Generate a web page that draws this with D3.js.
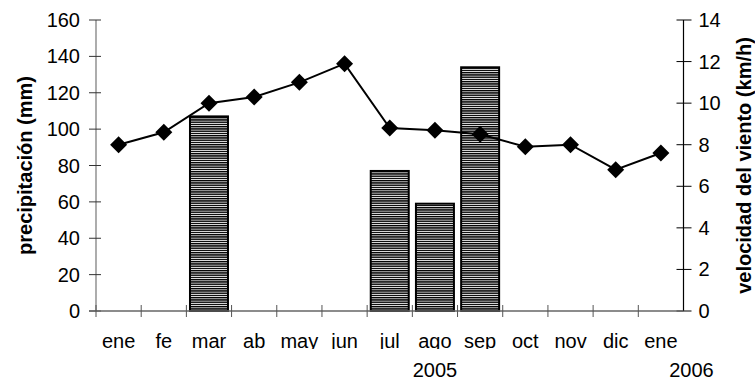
<!DOCTYPE html>
<html>
<head>
<meta charset="utf-8">
<script src="https://cdn.jsdelivr.net/npm/d3@7"></script>
<style>
  html, body { margin: 0; padding: 0; background: #fff; }
  svg { display: block; font-family: "Liberation Sans", Arial, sans-serif; }
</style>
</head>
<body>
<svg id="chart" width="755" height="380"></svg>
<script>
// Monthly precipitation (bars, left axis) and wind speed (line, right axis)
const months = ["ene", "fe", "mar", "ab", "may", "jun", "jul", "ago", "sep", "oct", "nov", "dic", "ene"];
const precipitation = [null, null, 107, null, null, null, 77, 59, 134, null, null, null, null];
const windSpeed = [8.0, 8.6, 10.0, 10.3, 11.0, 11.9, 8.8, 8.7, 8.5, 7.9, 8.0, 6.8, 7.6];
const precipTicks = [0, 20, 40, 60, 80, 100, 120, 140, 160];
const windTicks = [0, 2, 4, 6, 8, 10, 12, 14];
const years = ["2005", "2006"];
const leftTitle = "precipitación (mm)";
const rightTitle = "velocidad del viento (km/h)";

const svg = d3.select("#chart");
const plotLeft = 96, plotRight = 683.5, plotTop = 20, plotBottom = 311;
const fontSize = 20;

const x = d3.scaleBand().domain(d3.range(months.length)).range([plotLeft, plotRight]).padding(0);
const yP = d3.scaleLinear().domain([0, 160]).range([plotBottom, plotTop]);
const yW = d3.scaleLinear().domain([0, 14]).range([plotBottom, plotTop]);

// horizontal hatch fill for the bars
const defs = svg.append("defs");
const pat = defs.append("pattern")
  .attr("id", "hatch").attr("patternUnits", "userSpaceOnUse")
  .attr("width", 8).attr("height", 2.25);
pat.append("rect").attr("width", 8).attr("height", 2.25).attr("fill", "#fff");
pat.append("rect").attr("width", 8).attr("height", 1.4).attr("fill", "#000");

defs.append("clipPath").attr("id", "labelClip")
  .append("rect").attr("x", 0).attr("y", 0).attr("width", 755).attr("height", 349);

// bars
const barInset = 3.6;
svg.append("g").selectAll("rect")
  .data(precipitation.map((v, i) => ({ v, i })).filter(d => d.v != null))
  .join("rect")
  .attr("x", d => x(d.i) + barInset)
  .attr("width", x.bandwidth() - 2 * barInset)
  .attr("y", d => yP(d.v))
  .attr("height", d => yP(0) - yP(d.v))
  .attr("fill", "url(#hatch)")
  .attr("stroke", "#000")
  .attr("stroke-width", 2);

// left axis
const gL = svg.append("g");
gL.append("line").attr("x1", plotLeft).attr("x2", plotLeft).attr("y1", plotTop).attr("y2", plotBottom)
  .attr("stroke", "#808080").attr("stroke-width", 1.3);
gL.selectAll("line.t").data(precipTicks).join("line").attr("class", "t")
  .attr("x1", plotLeft - 7).attr("x2", plotLeft + 5)
  .attr("y1", d => yP(d)).attr("y2", d => yP(d))
  .attr("stroke", "#333").attr("stroke-width", 1);
gL.selectAll("text").data(precipTicks).join("text")
  .attr("x", plotLeft - 16).attr("y", d => yP(d)).attr("dy", "0.35em")
  .attr("text-anchor", "end").attr("font-size", fontSize).attr("fill", "#000")
  .text(d => d);

// right axis
const gR = svg.append("g");
gR.append("line").attr("x1", plotRight).attr("x2", plotRight).attr("y1", plotTop).attr("y2", plotBottom)
  .attr("stroke", "#000").attr("stroke-width", 1.2);
gR.selectAll("line.t").data(windTicks).join("line").attr("class", "t")
  .attr("x1", plotRight - 7).attr("x2", plotRight + 8)
  .attr("y1", d => yW(d)).attr("y2", d => yW(d))
  .attr("stroke", "#000").attr("stroke-width", 1);
gR.selectAll("text").data(windTicks).join("text")
  .attr("x", plotRight + 15).attr("y", d => yW(d)).attr("dy", "0.35em")
  .attr("text-anchor", "start").attr("font-size", fontSize).attr("fill", "#000")
  .text(d => d);

// category axis
const gB = svg.append("g");
gB.append("line").attr("x1", plotLeft - 7).attr("x2", plotRight).attr("y1", plotBottom).attr("y2", plotBottom)
  .attr("stroke", "#666").attr("stroke-width", 1.3);
gB.selectAll("line.t").data(d3.range(months.length)).join("line").attr("class", "t")
  .attr("x1", d => x(d)).attr("x2", d => x(d))
  .attr("y1", plotBottom - 6).attr("y2", plotBottom + 6)
  .attr("stroke", "#555").attr("stroke-width", 1);
gB.append("g").attr("clip-path", "url(#labelClip)")
  .selectAll("text").data(months).join("text")
  .attr("x", (d, i) => x(i) + x.bandwidth() / 2).attr("y", 347.5)
  .attr("text-anchor", "middle").attr("font-size", fontSize).attr("fill", "#000")
  .text(d => d);

// year labels
gB.append("text").attr("x", x(7) + x.bandwidth() / 2).attr("y", 376.5)
  .attr("text-anchor", "middle").attr("font-size", fontSize).text(years[0]);
gB.append("text").attr("x", plotRight + 8).attr("y", 376.5)
  .attr("text-anchor", "middle").attr("font-size", fontSize).text(years[1]);

// axis titles
svg.append("text")
  .attr("transform", `translate(32,${(plotTop + plotBottom) / 2}) rotate(-90)`)
  .attr("text-anchor", "middle").attr("font-size", fontSize).attr("font-weight", "bold")
  .text(leftTitle);
svg.append("text")
  .attr("transform", `translate(751,${(plotTop + plotBottom) / 2}) rotate(-90)`)
  .attr("text-anchor", "middle").attr("font-size", fontSize).attr("font-weight", "bold")
  .text(rightTitle);

// wind speed line with diamond markers
const cx = i => x(i) + x.bandwidth() / 2;
svg.append("path")
  .datum(windSpeed)
  .attr("d", d3.line().x((d, i) => cx(i)).y(d => yW(d)))
  .attr("fill", "none").attr("stroke", "#000").attr("stroke-width", 2);
const half = 8.5;
svg.append("g").selectAll("path")
  .data(windSpeed)
  .join("path")
  .attr("transform", (d, i) => `translate(${cx(i)},${yW(d)})`)
  .attr("d", `M0,${-half}L${half},0L0,${half}L${-half},0Z`)
  .attr("fill", "#000");
</script>
</body>
</html>
